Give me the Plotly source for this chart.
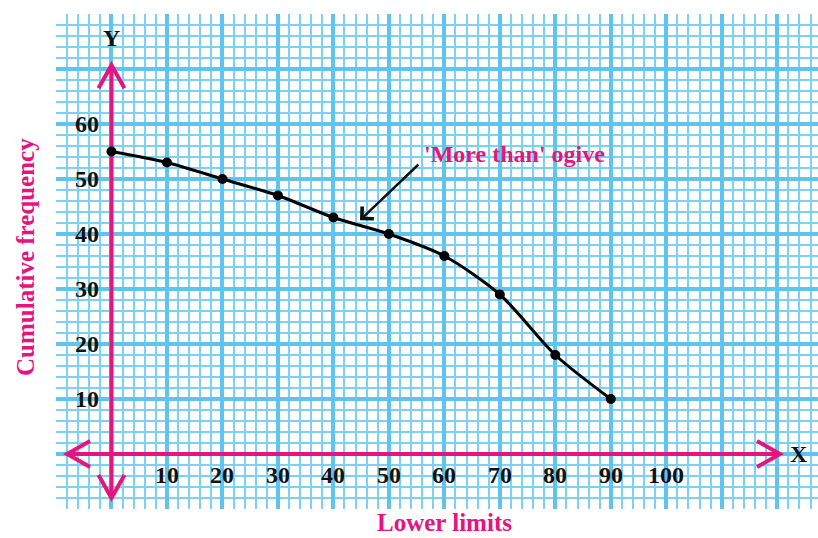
import plotly.graph_objects as go

# "More than" cumulative frequency distribution
lower_limits = [0, 10, 20, 30, 40, 50, 60, 70, 80, 90]
cum_freq = [55, 53, 50, 47, 43, 40, 36, 29, 18, 10]

x_tick_values = [10, 20, 30, 40, 50, 60, 70, 80, 90, 100]
y_tick_values = [10, 20, 30, 40, 50, 60]

W, H = 818, 538
ML, MR, MT, MB = 56, 0, 14, 29
X_RANGE = [-10, 127.35]
Y_RANGE = [-10, 80]

PINK = "#E5147E"
MAJOR_BLUE = "#5fc5ef"
MINOR_BLUE = "#7dd1f2"
SERIF = "Liberation Serif"

# pixels per data unit, used to size the axis arrowheads
sx = (W - ML - MR) / (X_RANGE[1] - X_RANGE[0])
sy = (H - MT - MB) / (Y_RANGE[1] - Y_RANGE[0])

fig = go.Figure()

fig.add_trace(go.Scatter(
    x=lower_limits, y=cum_freq,
    mode="lines+markers",
    line=dict(color="black", width=3, shape="spline", smoothing=0.8),
    marker=dict(color="black", size=10),
    showlegend=False, hoverinfo="skip",
))

shapes = []
axis_line = dict(color=PINK, width=4)

# coordinate axes with open arrowheads at both ends
x_left, x_right = -8.0, 120.5
y_bottom, y_top = -8.0, 70.7
back, half = 23, 13  # arrowhead size in pixels

shapes.append(dict(type="line", x0=x_left, y0=0, x1=x_right, y1=0, line=axis_line, layer="between"))
shapes.append(dict(type="line", x0=0, y0=y_bottom, x1=0, y1=y_top, line=axis_line, layer="between"))


def chevron(tx, ty, dx, dy):
    """Open arrowhead with its tip at (tx, ty) pointing along (dx, dy)."""
    if dx != 0:
        bx = tx - dx * back / sx
        p1 = (bx, ty + half / sy)
        p2 = (bx, ty - half / sy)
    else:
        by = ty - dy * back / sy
        p1 = (tx - half / sx, by)
        p2 = (tx + half / sx, by)
    path = f"M {p1[0]},{p1[1]} L {tx},{ty} L {p2[0]},{p2[1]}"
    return dict(type="path", path=path, line=axis_line, layer="between")


shapes.append(chevron(x_right, 0, 1, 0))
shapes.append(chevron(x_left, 0, -1, 0))
shapes.append(chevron(0, y_top, 0, 1))
shapes.append(chevron(0, y_bottom, 0, -1))

annotations = []
tick_font = dict(family=SERIF, size=24, color="#111111")
for v in x_tick_values:
    annotations.append(dict(x=v, y=-3.9, text=f"<b>{v}</b>", showarrow=False,
                            xanchor="center", yanchor="middle", font=tick_font))
for v in y_tick_values:
    annotations.append(dict(x=-1.8, y=v, text=f"<b>{v}</b>", showarrow=False,
                            xanchor="right", yanchor="middle", font=tick_font))

annotations.append(dict(x=0, y=75.6, text="<b>Y</b>", showarrow=False,
                        xanchor="center", yanchor="middle", font=tick_font))
annotations.append(dict(x=124.0, y=0, text="<b>X</b>", showarrow=False,
                        xanchor="center", yanchor="middle", font=tick_font))

title_font = dict(family=SERIF, size=25, color=PINK)
annotations.append(dict(xref="paper", yref="paper",
                        x=(444 - ML) / (W - ML - MR), y=-MB / (H - MT - MB),
                        text="<b>Lower limits</b>", showarrow=False,
                        xanchor="center", yanchor="bottom", font=title_font))
annotations.append(dict(xref="paper", yref="paper",
                        x=(25 - ML) / (W - ML - MR), y=((H - MB) - 257) / (H - MT - MB),
                        text="<b>Cumulative frequency</b>", showarrow=False, textangle=-90,
                        xanchor="center", yanchor="middle", font=title_font))

# label with a pointer to the curve
annotations.append(dict(x=56.0, y=54.5, text="<b>'More than' ogive</b>", showarrow=False,
                        xanchor="left", yanchor="middle",
                        font=dict(family=SERIF, size=24, color=PINK)))
annotations.append(dict(x=44.8, y=42.5, ax=55.6, ay=52.9, axref="x", ayref="y",
                        text="", showarrow=True, arrowhead=4, arrowsize=1.3,
                        arrowwidth=2.5, arrowcolor="#111111"))

axis_common = dict(
    showticklabels=False, ticks="", zeroline=False, showline=False,
    showgrid=True, gridcolor=MAJOR_BLUE, gridwidth=4, tick0=0, dtick=10,
    minor=dict(showgrid=True, dtick=2, gridcolor=MINOR_BLUE, gridwidth=1.5),
    fixedrange=True,
)

fig.update_layout(
    width=W, height=H,
    margin=dict(l=ML, r=MR, t=MT, b=MB),
    paper_bgcolor="white", plot_bgcolor="white",
    xaxis=dict(range=X_RANGE, **axis_common),
    yaxis=dict(range=Y_RANGE, **axis_common),
    shapes=shapes, annotations=annotations,
    showlegend=False,
)

fig.write_html("out.html")
